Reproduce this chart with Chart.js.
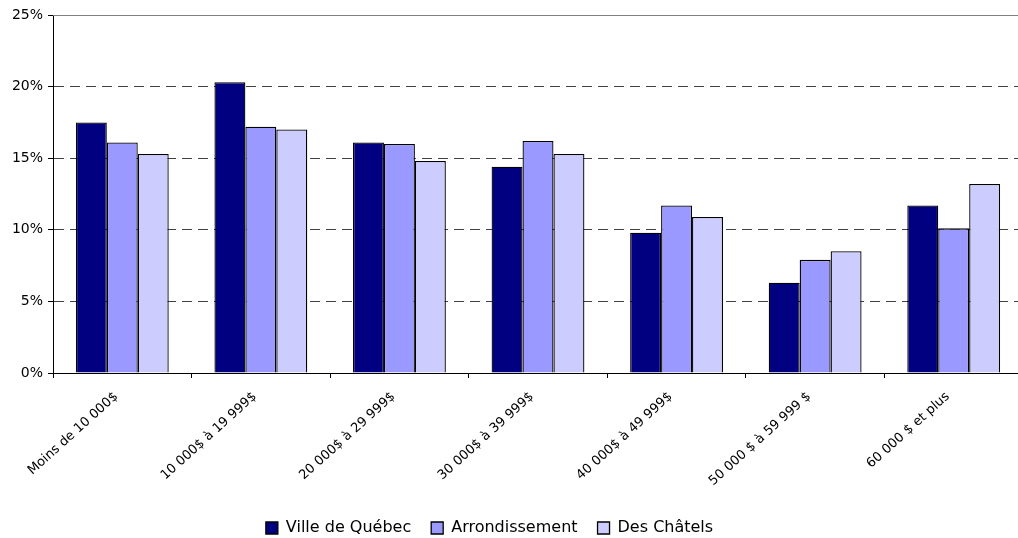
<!DOCTYPE html>
<html>
<head>
<meta charset="utf-8">
<script src="https://cdn.jsdelivr.net/npm/chart.js@4/dist/chart.umd.min.js"></script>
<style>
    html, body { margin: 0; padding: 0; background: #fff; overflow: hidden; }
    #wrap { position: relative; width: 1024px; height: 538px; }
</style>
</head>
<body>
<div id="wrap"><canvas id="revenuChart"></canvas></div>
<script>
const categories = ['Moins de 10 000$', '10 000$ à 19 999$', '20 000$ à 29 999$', '30 000$ à 39 999$',
    '40 000$ à 49 999$', '50 000 $ à 59 999 $', '60 000 $ et plus'];
const villeQuebec = [17.5, 20.3, 16.1, 14.4, 9.8, 6.3, 11.7];
const arrondissement = [16.1, 17.2, 16.0, 16.2, 11.7, 7.9, 10.1];
const desChatels = [15.3, 17.0, 14.8, 15.3, 10.9, 8.5, 13.2];
const yTicks = [0, 5, 10, 15, 20, 25];

// ligne grise du haut de la zone de tracé
const topBorder = {
    id: 'topBorder',
    beforeDatasetsDraw(chart) {
        const { ctx, chartArea } = chart;
        ctx.save();
        ctx.strokeStyle = '#808080';
        ctx.lineWidth = 1;
        ctx.beginPath();
        ctx.moveTo(chartArea.left, chartArea.top + 0.5);
        ctx.lineTo(chartArea.right, chartArea.top + 0.5);
        ctx.stroke();
        ctx.restore();
    }
};

// déplace la légende comme dans l'original
const legendShift = {
    id: 'legendShift',
    afterLayout(chart) {
        const lg = chart.legend;
        if (!lg) return;
        lg.left -= 22; lg.right -= 22;
        lg.top += 8; lg.bottom += 8;
    }
};

const ctx = document.getElementById('revenuChart').getContext('2d');
new Chart(ctx, {
    type: 'bar',
    data: {
        labels: categories,
        datasets: [
            { label: 'Ville de Québec', data: villeQuebec, backgroundColor: '#000080' },
            { label: 'Arrondissement', data: arrondissement, backgroundColor: '#9999FF' },
            { label: 'Des Châtels', data: desChatels, backgroundColor: '#CCCCFF' }
        ].map(d => Object.assign(d, {
            borderColor: '#000',
            borderWidth: 1.3,
            barPercentage: 1,
            categoryPercentage: 0.67
        }))
    },
    options: {
        responsive: true,
        maintainAspectRatio: false,
        animation: false,
        layout: { padding: { top: 15, right: 1, left: 0, bottom: 0 } },
        scales: {
            y: {
                min: 0,
                max: 25,
                afterBuildTicks: (scale) => { scale.ticks = yTicks.map(v => ({ value: v })); },
                afterFit: (scale) => { scale.width = 53; },
                ticks: {
                    callback: v => v + '%',
                    color: '#000',
                    padding: 5,
                    font: { family: 'DejaVu Sans', size: 14 }
                },
                grid: {
                    color: (c) => c.tick && c.tick.value === 25 ? 'rgba(0,0,0,0)' : '#404040',
                    tickColor: '#000',
                    tickLength: 5,
                    tickBorderDash: []
                },
                border: { color: '#000', width: 1, dash: [10, 6] }
            },
            x: {
                afterFit: (scale) => { scale.height = 119; },
                ticks: {
                    color: '#000',
                    minRotation: 42,
                    maxRotation: 42,
                    padding: 11,
                    labelOffset: -6,
                    font: { family: 'DejaVu Sans', size: 13 }
                },
                grid: {
                    drawOnChartArea: false,
                    tickColor: '#000',
                    tickLength: 5
                },
                border: { color: '#000', width: 1 }
            }
        },
        plugins: {
            legend: {
                position: 'bottom',
                labels: {
                    color: '#000',
                    boxWidth: 12,
                    boxHeight: 12,
                    padding: 20,
                    font: { family: 'DejaVu Sans', size: 16 }
                }
            },
            tooltip: { enabled: false }
        }
    },
    plugins: [topBorder, legendShift]
});
</script>
</body>
</html>
